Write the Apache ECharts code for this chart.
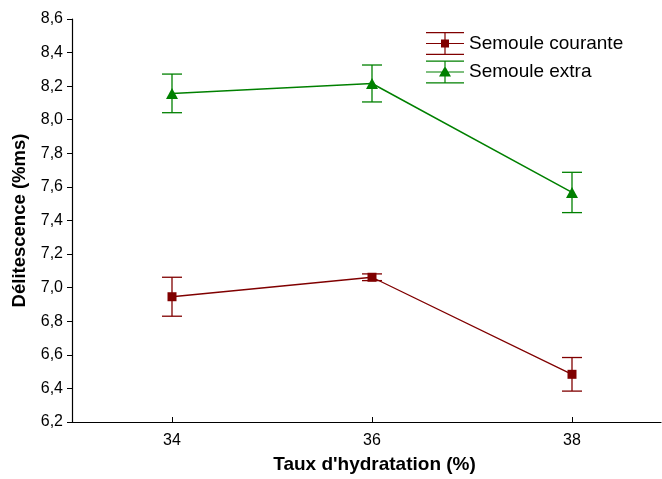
<!DOCTYPE html>
<html>
<head>
<meta charset="utf-8">
<script src="https://cdn.jsdelivr.net/npm/echarts@6/dist/echarts.min.js"></script>
<style>html,body{margin:0;padding:0;background:#fff}#c{width:662px;height:479px}</style>
</head>
<body>
<div id="c"></div>
<script>
const hydration = [34, 36, 38];
const courante = [6.946, 7.062, 6.484];
const couranteErr = [0.116, 0.02, 0.1];
const extra = [8.157, 8.216, 7.567];
const extraErr = [0.115, 0.11, 0.12];
const yTicks = [6.2, 8.6, 0.2];
const seriesNames = ['Semoule courante', 'Semoule extra'];

const RED = '#800000', GREEN = '#008000';
const FONT = 'Liberation Sans, Arial, sans-serif';

function pts(vals){ return hydration.map((x,i)=>[x, vals[i]]); }
function errData(vals, errs){ return hydration.map((x,i)=>[x, vals[i]-errs[i], vals[i]+errs[i]]); }

function errRender(color){
  return function(params, api){
    const x = api.value(0);
    const lo = api.coord([x, api.value(1)]);
    const hi = api.coord([x, api.value(2)]);
    const w = 10;
    const st = {stroke: color, lineWidth: 1.3};
    return {type:'group', children:[
      {type:'line', shape:{x1:lo[0], y1:lo[1], x2:hi[0], y2:hi[1]}, style:st},
      {type:'line', shape:{x1:lo[0]-w, y1:lo[1], x2:lo[0]+w, y2:lo[1]}, style:st},
      {type:'line', shape:{x1:hi[0]-w, y1:hi[1], x2:hi[0]+w, y2:hi[1]}, style:st}
    ]};
  };
}

const iconBase = 'M0 0H38V1.2H0Z M0 21.8H38V23H0Z M0 10.9H38V12.1H0Z M18.4 0H19.6V23H18.4Z ';
const iconSquare = 'path://' + iconBase + 'M15 7.5H23V15.5H15Z';
const iconTri = 'path://' + iconBase + 'M19 5.5L25 16H13Z';

const chart = echarts.init(document.getElementById('c'));
chart.setOption({
  animation: false,
  backgroundColor: '#fff',
  grid: {left: 72, right: 1, top: 19, bottom: 57},
  legend: {
    orient: 'vertical', left: 421, top: 27, itemWidth: 38, itemHeight: 23, itemGap: 5.5,
    textStyle: {fontFamily: FONT, fontSize: 19, color: '#000'},
    data: [
      {name: seriesNames[0], icon: iconSquare, itemStyle: {color: RED}},
      {name: seriesNames[1], icon: iconTri, itemStyle: {color: GREEN}}
    ]
  },
  xAxis: {
    type: 'value', min: 33, max: 38.89,
    name: "Taux d'hydratation (%)", nameLocation: 'middle', nameGap: 33,
    nameTextStyle: {fontFamily: FONT, fontSize: 19, fontWeight: 'bold', color: '#000', padding: [0,0,0,16]},
    axisLine: {lineStyle: {color: '#000', width: 1.2}},
    axisTick: {inside: true, length: 5, customValues: hydration, lineStyle: {color: '#000'}},
    axisLabel: {customValues: hydration, fontFamily: FONT, fontSize: 16, color: '#000', margin: 11},
    splitLine: {show: false}
  },
  yAxis: {
    type: 'value', min: yTicks[0], max: yTicks[1], interval: yTicks[2],
    name: 'Délitescence (%ms)', nameLocation: 'middle', nameGap: 40,
    nameTextStyle: {fontFamily: FONT, fontSize: 18.5, fontWeight: 'bold', color: '#000'},
    axisLine: {show: true, lineStyle: {color: '#000', width: 1.2}},
    axisTick: {show: true, length: 5, lineStyle: {color: '#000'}},
    axisLabel: {fontFamily: FONT, fontSize: 16, color: '#000', margin: 9,
      formatter: v => v.toFixed(1).replace('.', ',')},
    splitLine: {show: false}
  },
  series: [
    {type: 'custom', name: seriesNames[0], data: errData(courante, couranteErr), renderItem: errRender(RED), z: 1, silent: true, itemStyle:{color:RED}},
    {type: 'custom', name: seriesNames[1], data: errData(extra, extraErr), renderItem: errRender(GREEN), z: 1, silent: true, itemStyle:{color:GREEN}},
    {type: 'line', name: seriesNames[0], data: pts(courante), color: RED, symbol: 'rect', symbolSize: 9,
      lineStyle: {color: RED, width: 1.3}, itemStyle: {color: RED}, z: 3},
    {type: 'line', name: seriesNames[1], data: pts(extra), color: GREEN, symbol: 'triangle', symbolSize: [12, 11],
      lineStyle: {color: GREEN, width: 1.5}, itemStyle: {color: GREEN}, z: 3}
  ]
});
</script>
</body>
</html>
